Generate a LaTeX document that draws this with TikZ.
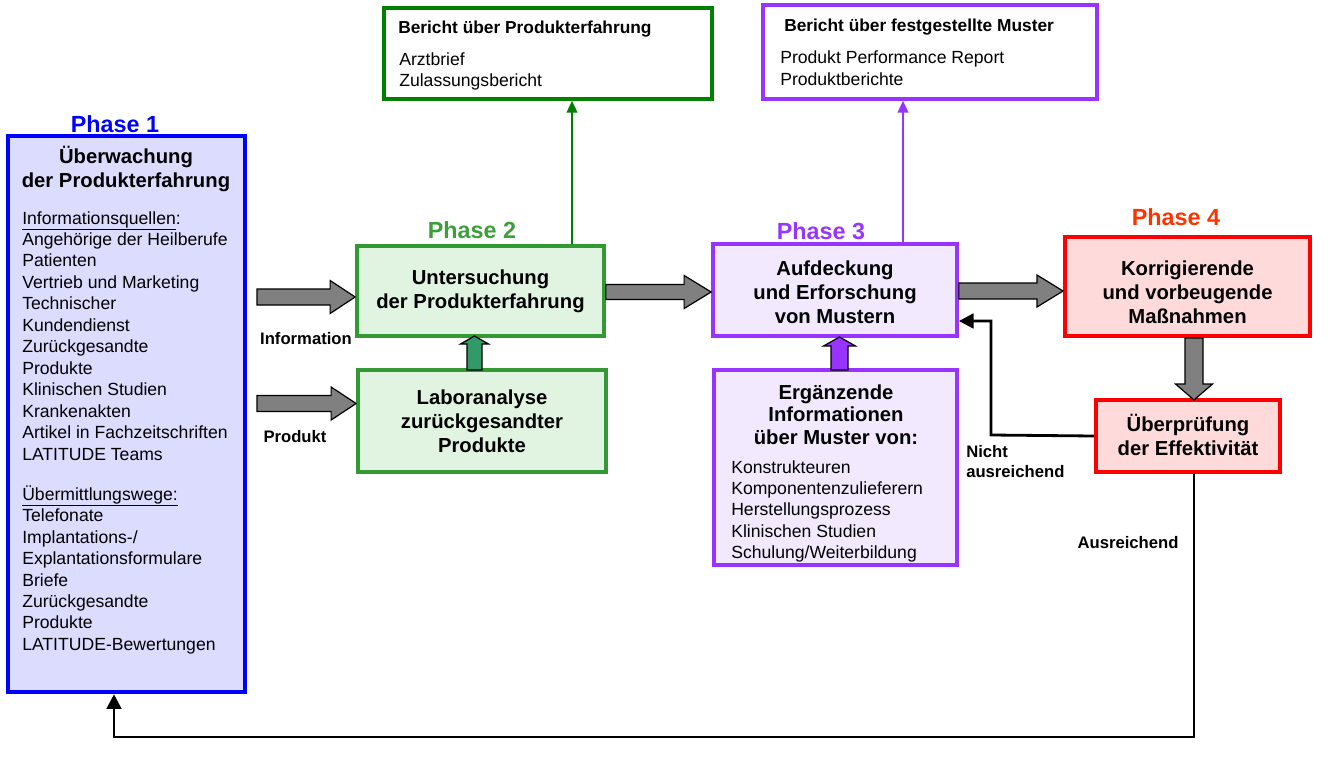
\documentclass[tikz,border=0pt]{standalone}
\usepackage{fontspec}
\setmainfont{Liberation Sans}
\usetikzlibrary{calc,fit,arrows.meta}
\definecolor{pOneCol}{HTML}{0000FF}
\definecolor{pOneFill}{HTML}{DCDCFF}
\definecolor{pTwoCol}{HTML}{339933}
\definecolor{pTwoFill}{HTML}{E1F4E1}
\definecolor{pTwoTxt}{HTML}{3C9F3C}
\definecolor{bGreen}{HTML}{008000}
\definecolor{pThreeCol}{HTML}{9933FF}
\definecolor{pThreeFill}{HTML}{F2E9FF}
\definecolor{pFourCol}{HTML}{FF0000}
\definecolor{pFourFill}{HTML}{FFDADA}
\definecolor{pFourTxt}{HTML}{FF3300}
\definecolor{arrGray}{HTML}{808080}
\definecolor{upGreen}{HTML}{339966}
\tikzset{
  boxbase/.style={rectangle, inner sep=0pt},
  p1box/.style={boxbase, draw=pOneCol, fill=pOneFill, line width=3.4pt},
  p2box/.style={boxbase, draw=pTwoCol, fill=pTwoFill, line width=2.8pt},
  rep1box/.style={boxbase, draw=bGreen, fill=white, line width=2.6pt},
  p3box/.style={boxbase, draw=pThreeCol, fill=pThreeFill, line width=2.8pt},
  rep3box/.style={boxbase, draw=pThreeCol, fill=white, line width=2.6pt},
  p4box/.style={boxbase, draw=pFourCol, fill=pFourFill, line width=3pt},
  titletext/.style={align=center, inner sep=0pt, font=\fontsize{15.2}{18}\selectfont\bfseries},
  bodytext/.style={align=left, inner sep=0pt, font=\fontsize{13.2}{16.1}\selectfont},
  reptitle/.style={inner sep=0pt, font=\fontsize{13}{16}\selectfont\bfseries},
  phaselabel/.style={inner sep=0pt, font=\fontsize{17.5}{20}\selectfont\bfseries},
  smalllabel/.style={align=left, inner sep=0pt, font=\fontsize{12.5}{15}\selectfont\bfseries},
  blockarrow/.style={draw=black, line width=0.9pt, fill=arrGray, line join=miter},
  feedline/.style={draw=black, line width=2.1pt, -{Triangle[length=11pt,width=11pt]}},
  repline/.style={line width=1.6pt, -{Triangle[length=9pt,width=8pt]}}
}
% horizontal block arrow: start, end, half shaft, head length, half head
\newcommand{\blkRight}[5]{%
  \draw[blockarrow] ($(#1)+(0,#3)$) -- ($(#2)+(-#4,#3)$) -- ($(#2)+(-#4,#5)$) -- (#2)
    -- ($(#2)+(-#4,-#5)$) -- ($(#2)+(-#4,-#3)$) -- ($(#1)+(0,-#3)$) -- cycle;}
% vertical block arrow: start, end, half shaft, signed head length, half head, fill colour
\newcommand{\blkVert}[6]{%
  \draw[blockarrow, fill=#6] ($(#1)+(-#3,0)$) -- ($(#2)+(-#3,#4)$) -- ($(#2)+(-#5,#4)$) -- (#2)
    -- ($(#2)+(#5,#4)$) -- ($(#2)+(#3,#4)$) -- ($(#1)+(#3,0)$) -- cycle;}
\begin{document}
\begin{tikzpicture}[x=0.75pt, y=-0.75pt]
\useasboundingbox (0,0) rectangle (1330,756);

% ---------- boxes ----------
\node[p1box, fit={(8,136) (245,692)}] (p1) {};
\node[p2box, fit={(357,246) (604,336)}] (unt) {};
\node[p2box, fit={(358,370) (606,472)}] (lab) {};
\node[rep1box, fit={(384,8) (712,99)}] (rep1) {};
\node[p3box, fit={(713,244) (957,336)}] (auf) {};
\node[p3box, fit={(714,370) (957,565)}] (erg) {};
\node[rep3box, fit={(763,5) (1097,99)}] (rep3) {};
\node[p4box, fit={(1065,237) (1310,336)}] (kor) {};
\node[p4box, fit={(1096,400) (1280,472)}] (ueb) {};

% ---------- phase labels ----------
\node[phaselabel, text=pOneCol] (ph1) at (115,124) {Phase 1};
\node[phaselabel, text=pTwoTxt] (ph2) at (472,230) {Phase 2};
\node[phaselabel, text=pThreeCol] (ph3) at (821,231) {Phase 3};
\node[phaselabel, text=pFourTxt] (ph4) at (1176,217) {Phase 4};

% ---------- texts ----------
\node[titletext] (p1title) at (126,169) {Überwachung\\der Produkterfahrung};
\node[bodytext, anchor=north west] (p1list) at (22,211) {\underline{Informationsquellen}:\\
Angehörige der Heilberufe\\
Patienten\\
Vertrieb und Marketing\\
Technischer\\
Kundendienst\\
Zurückgesandte\\
Produkte\\
Klinischen Studien\\
Krankenakten\\
Artikel in Fachzeitschriften\\
LATITUDE Teams\\[13.9pt]
\underline{Übermittlungswege:}\\
Telefonate\\
Implantations-/\\
Explantationsformulare\\
Briefe\\
Zurückgesandte\\
Produkte\\
LATITUDE-Bewertungen};

\node[titletext] (unttext) at (480.5,291) {Untersuchung\\der Produkterfahrung};
\node[titletext] (labtext) at (482,421) {Laboranalyse\\zurückgesandter\\Produkte};
\node[titletext] (auftext) at (835,292) {Aufdeckung\\und Erforschung\\von Mustern};
\node[titletext, font=\fontsize{15.2}{17}\selectfont\bfseries] (ergtitle) at (836,414.5) {Ergänzende\\Informationen\\über Muster von:};
\node[bodytext, anchor=north west] (erglist) at (731,460) {Konstrukteuren\\
Komponentenzulieferern\\
Herstellungsprozess\\
Klinischen Studien\\
Schulung/Weiterbildung};
\node[titletext] (kortext) at (1187.5,292) {Korrigierende\\und vorbeugende\\Maßnahmen};
\node[titletext] (uebtext) at (1188,435) {Überprüfung\\der Effektivität};

\node[reptitle, anchor=west] (rep1title) at (398,29) {Bericht über Produkterfahrung};
\node[bodytext, font=\fontsize{13.2}{15.75}\selectfont, anchor=north west] (rep1list) at (399,52) {Arztbrief\\Zulassungsbericht};
\node[reptitle, anchor=west] (rep3title) at (784,27) {Bericht über festgestellte Muster};
\node[bodytext, font=\fontsize{13.2}{16.5}\selectfont, anchor=north west] (rep3list) at (780,50) {Produkt Performance Report\\Produktberichte};

\node[smalllabel] (infolbl) at (306,339) {Information};
\node[smalllabel] (prodlbl) at (295,437) {Produkt};
\node[smalllabel, anchor=west] (nichtlbl) at (966,462) {Nicht\\ausreichend};
\node[smalllabel] (auslbl) at (1128,543) {Ausreichend};

% ---------- block arrows ----------
\coordinate (infoS) at (257,297);
\coordinate (infoE) at (unt.west |- infoS);
\blkRight{infoS}{infoE}{8}{25}{16.5}
\coordinate (prodS) at (257,403.5);
\coordinate (prodE) at (lab.west |- prodS);
\blkRight{prodS}{prodE}{8}{25}{16.5}
\coordinate (uaS) at (unt.east |- 0,292);
\coordinate (uaE) at (auf.west |- 0,292);
\blkRight{uaS}{uaE}{7.5}{27}{16.5}
\coordinate (akS) at (auf.east |- 0,291);
\coordinate (akE) at (kor.west |- 0,291);
\blkRight{akS}{akE}{8}{26}{16}
\coordinate (kuS) at (1194,338);
\coordinate (kuE) at (1194,400);
\blkVert{kuS}{kuE}{9}{-16}{18.5}{arrGray}
\coordinate (luS) at (474.5,370);
\coordinate (luE) at (474.5,336);
\blkVert{luS}{luE}{7.5}{8}{14}{upGreen}
\coordinate (euS) at (839.5,370);
\coordinate (euE) at (839.5,337);
\blkVert{euS}{euE}{8.5}{9}{16}{pThreeCol}

% ---------- report lines ----------
\draw[repline, draw=bGreen, fill=bGreen] (unt.north -| 572,0) -- (rep1.south -| 572,0);
\draw[repline, draw=pThreeCol, fill=pThreeCol] (auf.north -| 903,0) -- (rep3.south -| 903,0);

% ---------- feedback lines ----------
\coordinate (fbA) at (ueb.west);
\coordinate (fbB) at (991,435);
\coordinate (fbC) at (991,321);
\draw[feedline] (fbA) -- (fbB) -- (fbC) -- (auf.east |- fbC);
\coordinate (okA) at (1194,737);
\coordinate (okB) at (114,737);
\draw[feedline] (ueb.south -| okA) -- (okA) -- (okB) -- (p1.south -| okB);
\end{tikzpicture}
\end{document}
